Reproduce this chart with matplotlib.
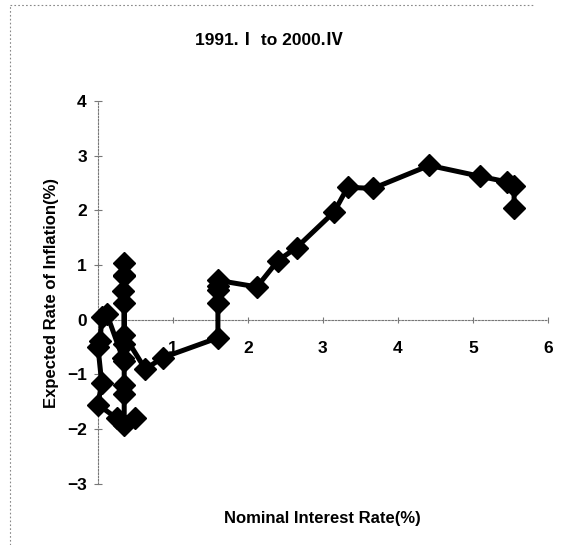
import matplotlib
matplotlib.use("Agg")
import matplotlib.pyplot as plt
from matplotlib.lines import Line2D

# nominal interest rate (%) and expected inflation (%), 1991.I -> 2000.IV
rate = [5.55, 5.55, 5.45, 5.10, 4.42, 3.67, 3.33, 3.15, 2.65, 2.40, 2.12,
        1.60, 1.60, 1.60, 1.60, 1.60, 0.87, 0.63,
        0.35, 0.35, 0.33, 0.35, 0.35, 0.35, 0.35, 0.35, 0.35, 0.35, 0.35,
        0.50, 0.25, 0.00, 0.05, 0.00, 0.03, 0.05, 0.12, 0.33]
infl = [2.05, 2.45, 2.52, 2.62, 2.82, 2.40, 2.42, 1.97, 1.32, 1.08, 0.60,
        0.72, 0.62, 0.55, 0.30, -0.33, -0.69, -0.90,
        -0.28, 0.30, 0.52, 0.82, 1.03, 0.80, -0.45, -0.75, -1.20, -1.35, -1.93,
        -1.80, -1.80, -1.55, -1.15, -0.50, -0.38, 0.05, 0.10, -0.70]

TITLE = "1991.Ⅰ to 2000.Ⅳ"
XLABEL = "Nominal Interest Rate(%)"
YLABEL = "Expected Rate of Inflation(%)"
XTICKS = [1, 2, 3, 4, 5, 6]
YTICKS = [-3, -2, -1, 0, 1, 2, 3, 4]

plt.rcParams["font.family"] = ["Liberation Sans", "Noto Sans CJK JP", "DejaVu Sans"]

fig = plt.figure(figsize=(5.63, 5.45), dpi=100)
ax = fig.add_axes([0.174, 0.112, 0.799, 0.703])

ax.plot(rate, infl, "-", color="black", lw=3.6, marker="D", ms=11,
        mfc="black", mec="black", solid_joinstyle="round", clip_on=False, zorder=5)

ax.set_xlim(0, 6)
ax.set_ylim(-3, 4)

for side in ("top", "right"):
    ax.spines[side].set_visible(False)
ax.spines["bottom"].set_position(("data", 0))
for side in ("left", "bottom"):
    ax.spines[side].set_linestyle((0, (1.5, 1.5)))
    ax.spines[side].set_color("#777")
    ax.spines[side].set_linewidth(0.8)

ax.set_xticks(XTICKS)
ax.set_yticks(YTICKS)
ax.tick_params(axis="y", direction="inout", length=6, width=0.8, color="#777",
               pad=5, labelsize=12.5)
ax.tick_params(axis="x", direction="inout", length=4, width=0.8, color="#777",
               pad=13, labelsize=12.5)
for lab in ax.get_xticklabels() + ax.get_yticklabels():
    lab.set_fontweight("bold")

fig.text(0.478, 0.925, TITLE, ha="center", va="center", fontsize=12.5, fontweight="bold")
fig.text(0.572, 0.048, XLABEL, ha="center", va="center", fontsize=12, fontweight="bold")
fig.text(0.092, 0.462, YLABEL, ha="center", va="center", fontsize=12, fontweight="bold",
         rotation=90)

# dotted chart-area border (top and left edges)
fig.add_artist(Line2D([0.018, 0.95], [0.99, 0.99], transform=fig.transFigure,
                      color="#888", lw=0.8, ls=(0, (1.5, 2))))
fig.add_artist(Line2D([0.018, 0.018], [0.0, 0.99], transform=fig.transFigure,
                      color="#888", lw=0.8, ls=(0, (1.5, 2))))

fig.savefig("out.png", dpi=100)
